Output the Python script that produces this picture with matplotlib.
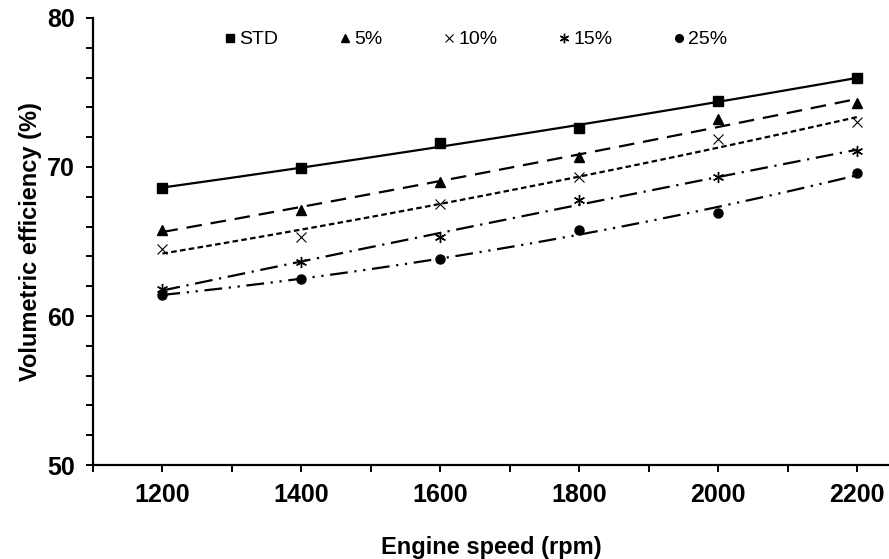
import numpy as np
import matplotlib
matplotlib.use('Agg')
import matplotlib.pyplot as plt
from matplotlib.ticker import MultipleLocator

plt.rcParams['font.family'] = ['Liberation Sans', 'DejaVu Sans']

# -------------------------------------------------------------------------
# Data
# -------------------------------------------------------------------------
speed = [1200, 1400, 1600, 1800, 2000, 2200]
ve_std = [68.6, 69.9, 71.6, 72.6, 74.4, 76.0]
ve_5 = [65.8, 67.1, 69.0, 70.7, 73.2, 74.3]
ve_10 = [64.5, 65.3, 67.5, 69.3, 71.9, 73.0]
ve_15 = [61.8, 63.6, 65.3, 67.8, 69.3, 71.1]
ve_25 = [61.4, 62.5, 63.8, 65.8, 66.9, 69.6]
labels = ['STD', '5%', '10%', '15%', '25%']

series = [ve_std, ve_5, ve_10, ve_15, ve_25]
markers = ['s', '^', 'x', (6, 2, 0), 'o']
msizes = [6.5, 6.5, 7, 8, 6.5]
dashes = [None, (7, 4), (2.5, 1.5), (8, 3, 1, 3), (8, 3, 1, 3, 1, 3)]

fig = plt.figure(figsize=(8.89, 5.59), dpi=100)
ax = fig.add_axes([0.1046, 0.168, 0.8954, 0.800])

xs = np.linspace(speed[0], speed[-1], 200)
handles = []
for vals, mk, ms, ds, lab in zip(series, markers, msizes, dashes, labels):
    # second order trendline through the measured points
    coef = np.polyfit(speed, vals, 2)
    line, = ax.plot(xs, np.polyval(coef, xs), color='black', linewidth=1.6)
    if ds is not None:
        line.set_dashes(ds)
    h, = ax.plot(speed, vals, linestyle='none', marker=mk, markersize=ms,
                 color='black', markeredgewidth=1.0 if mk != 'x' else 0.8,
                 label=lab)
    handles.append(h)

ax.set_xlim(1100, 2246)
ax.set_ylim(50, 80)
ax.xaxis.set_major_locator(MultipleLocator(200))
ax.xaxis.set_minor_locator(MultipleLocator(100))
ax.yaxis.set_major_locator(MultipleLocator(10))
ax.yaxis.set_minor_locator(MultipleLocator(2))

ax.spines['top'].set_visible(False)
ax.spines['right'].set_visible(False)
ax.spines['left'].set_linewidth(1.6)
ax.spines['bottom'].set_linewidth(1.6)
ax.tick_params(which='both', direction='out', length=5, width=1.4)
ax.tick_params(axis='both', which='major', labelsize=18, pad=8)
for t in ax.get_xticklabels() + ax.get_yticklabels():
    t.set_fontweight('bold')

ax.set_xlabel('Engine speed (rpm)', fontsize=17, fontweight='bold', labelpad=21)
ax.set_ylabel('Volumetric efficiency (%)', fontsize=17, fontweight='bold', labelpad=4)

leg = fig.legend(handles=handles, loc='center', bbox_to_anchor=(0.535, 0.929),
                 ncol=5, frameon=False, fontsize=14, handlelength=0.6,
                 handletextpad=0.2, columnspacing=3.1, markerscale=0.85)

fig.savefig('out.png', dpi=100)
